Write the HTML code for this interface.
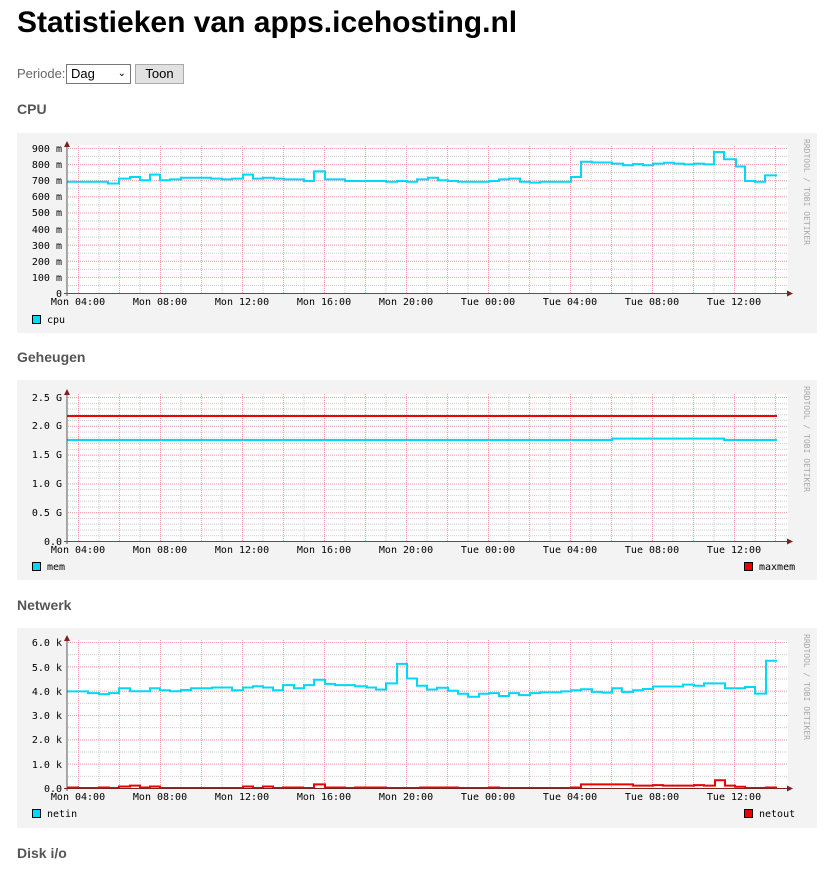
<!DOCTYPE html>
<html><head><meta charset="utf-8">
<style>
body{margin:0;width:825px;height:873px;overflow:hidden;background:#fff;font-family:"Liberation Sans",sans-serif;position:relative}
.a{position:absolute}
h1{position:absolute;left:17px;top:6px;margin:0;font-size:30px;font-weight:bold;color:#000}
.h{position:absolute;left:17px;font-size:14px;font-weight:bold;color:#555}
svg{position:absolute;left:17px}
svg text{font-family:"DejaVu Sans Mono","Liberation Mono",monospace;font-size:10px;fill:#000}
</style></head><body>
<h1>Statistieken van apps.icehosting.nl</h1>
<div class="a" style="left:17px;top:66px;font-size:13px;color:#666">Periode:</div>
<div class="a" style="left:66px;top:64px;width:63px;height:18px;border:1px solid #777;font-size:13px;line-height:18px;box-sizing:content-box"><span style="margin-left:4px">Dag</span><span style="position:absolute;right:4px;top:0;font-size:10px">&#8964;</span></div>
<div class="a" style="left:135px;top:64px;width:47px;height:18px;border:1px solid #aaa;background:#e1e1e1;font-size:13px;line-height:18px;text-align:center">Toon</div>
<div class="h" style="top:101px">CPU</div>
<div class="h" style="top:349px">Geheugen</div>
<div class="h" style="top:597px">Netwerk</div>
<div class="h" style="top:845px">Disk i/o</div>

<svg width="800" height="200" viewBox="17 133 800 200" style="top:133px">
<defs>
<pattern id="gv" x="78" y="0" width="20.5" height="4" patternUnits="userSpaceOnUse"><rect x="0" y="0" width="1" height="1" fill="#ccc"/><rect x="0" y="2" width="1" height="1" fill="#ccc"/></pattern>
<pattern id="rv" x="78" y="0" width="41" height="4" patternUnits="userSpaceOnUse"><rect x="0" y="0" width="1" height="1" fill="#f0a0a0"/><rect x="0" y="2" width="1" height="1" fill="#f0a0a0"/></pattern>
<pattern id="ch" x="0" y="293" width="4" height="8.055" patternUnits="userSpaceOnUse"><rect x="0" y="0" width="1" height="1" fill="#ccc"/><rect x="2" y="0" width="1" height="1" fill="#ccc"/></pattern>
<pattern id="crh" x="0" y="293" width="4" height="16.11" patternUnits="userSpaceOnUse"><rect x="0" y="0" width="1" height="1" fill="#f0a0a0"/><rect x="2" y="0" width="1" height="1" fill="#f0a0a0"/></pattern>
</defs>
<rect x="17" y="133" width="800" height="200" fill="#f3f3f3"/>
<rect x="67" y="145" width="721" height="148" fill="#fff"/>
<rect x="67" y="145" width="721" height="148" fill="url(#gv)"/>
<rect x="67" y="145" width="721" height="148" fill="url(#ch)"/>
<rect x="67" y="145" width="721" height="148" fill="url(#rv)"/>
<rect x="67" y="145" width="721" height="148" fill="url(#crh)"/>
<g text-anchor="end">
<text x="62" y="152">900 m</text><text x="62" y="168">800 m</text><text x="62" y="184">700 m</text><text x="62" y="200">600 m</text><text x="62" y="216">500 m</text><text x="62" y="233">400 m</text><text x="62" y="249">300 m</text><text x="62" y="265">200 m</text><text x="62" y="281">100 m</text><text x="62" y="297">0</text></g>
<polyline fill="none" stroke="#00d8f8" stroke-width="2" points="67,181.8 108,181.8 108,183.5 119,183.5 119,178.6 130,178.6 130,177 140,177 140,180.2 150,180.2 150,174.6 160,174.6 160,180.2 170,180.2 170,179.4 181,179.4 181,177.8 211,177.8 211,178.6 222,178.6 222,179.4 232,179.4 232,178.6 243,178.6 243,174.6 253,174.6 253,178.6 263,178.6 263,177.8 274,177.8 274,178.6 284,178.6 284,179.4 304,179.4 304,181 314,181 314,171.4 325,171.4 325,179.4 345,179.4 345,181 386,181 386,181.8 397,181.8 397,181 407,181 407,181.8 417,181.8 417,179.4 428,179.4 428,177.8 438,177.8 438,180.2 448,180.2 448,181 458,181 458,181.8 489,181.8 489,181 499,181 499,179.4 509,179.4 509,178.6 520,178.6 520,181.8 530,181.8 530,182.6 540,182.6 540,181.8 571,181.8 571,177 581,177 581,161.7 592,161.7 592,162.5 612,162.5 612,163.6 623,163.6 623,165.2 633,165.2 633,164.1 643,164.1 643,165.2 653,165.2 653,163.6 664,163.6 664,162.8 674,162.8 674,163.6 684,163.6 684,164.4 694,164.4 694,163.6 704,163.6 704,164.4 714,164.4 714,152 724,152 724,159.3 736,159.3 736,166.5 745,166.5 745,181 755,181 755,181.8 765,181.8 765,175.4 777,175.4"/>
<line x1="67" y1="143" x2="67" y2="296" stroke="#555"/>
<line x1="64" y1="293.5" x2="790" y2="293.5" stroke="#555"/>
<polygon points="64,147 70,147 67,141" fill="#802020"/>
<polygon points="787,290.5 787,296.5 793,293.5" fill="#802020"/>
<g text-anchor="middle"><text x="78" y="305">Mon 04:00</text><text x="160" y="305">Mon 08:00</text><text x="242" y="305">Mon 12:00</text><text x="324" y="305">Mon 16:00</text><text x="406" y="305">Mon 20:00</text><text x="488" y="305">Tue 00:00</text><text x="570" y="305">Tue 04:00</text><text x="652" y="305">Tue 08:00</text><text x="734" y="305">Tue 12:00</text></g>
<rect x="32.5" y="315.5" width="8" height="8" fill="#00d8f8" stroke="#000"/>
<text x="47" y="323">cpu</text>
<text transform="translate(804,139) rotate(90)" style="font-size:8px;fill:#aaa">RRDTOOL / TOBI OETIKER</text>
</svg>

<svg width="800" height="200" viewBox="17 380 800 200" style="top:380px">
<defs>
<pattern id="mh" x="0" y="541" width="4" height="5.76" patternUnits="userSpaceOnUse"><rect x="0" y="0" width="1" height="1" fill="#ccc"/><rect x="2" y="0" width="1" height="1" fill="#ccc"/></pattern>
<pattern id="mrh" x="0" y="541" width="4" height="28.8" patternUnits="userSpaceOnUse"><rect x="0" y="0" width="1" height="1" fill="#f0a0a0"/><rect x="2" y="0" width="1" height="1" fill="#f0a0a0"/></pattern>
</defs>
<rect x="17" y="380" width="800" height="200" fill="#f3f3f3"/>
<rect x="67" y="394" width="721" height="147" fill="#fff"/>
<rect x="67" y="394" width="721" height="147" fill="url(#gv)"/>
<rect x="67" y="394" width="721" height="147" fill="url(#mh)"/>
<rect x="67" y="394" width="721" height="147" fill="url(#rv)"/>
<rect x="67" y="394" width="721" height="147" fill="url(#mrh)"/>
<g text-anchor="end"><text x="62" y="401">2.5 G</text><text x="62" y="429">2.0 G</text><text x="62" y="458">1.5 G</text><text x="62" y="487">1.0 G</text><text x="62" y="516">0.5 G</text><text x="62" y="545">0.0</text></g>
<line x1="67" y1="416" x2="777" y2="416" stroke="#ee0000" stroke-width="2"/>
<polyline fill="none" stroke="#00d8f8" stroke-width="2" points="67,440 612,440 612,438.6 724,438.6 724,440 777,440"/>
<line x1="67" y1="390" x2="67" y2="544" stroke="#555"/>
<line x1="64" y1="541.5" x2="790" y2="541.5" stroke="#555"/>
<polygon points="64,395 70,395 67,389" fill="#802020"/>
<polygon points="787,538.5 787,544.5 793,541.5" fill="#802020"/>
<g text-anchor="middle"><text x="78" y="553">Mon 04:00</text><text x="160" y="553">Mon 08:00</text><text x="242" y="553">Mon 12:00</text><text x="324" y="553">Mon 16:00</text><text x="406" y="553">Mon 20:00</text><text x="488" y="553">Tue 00:00</text><text x="570" y="553">Tue 04:00</text><text x="652" y="553">Tue 08:00</text><text x="734" y="553">Tue 12:00</text></g>
<rect x="32.5" y="562.5" width="8" height="8" fill="#00d8f8" stroke="#000"/>
<text x="47" y="570">mem</text>
<rect x="744.5" y="562.5" width="8" height="8" fill="#ee0000" stroke="#000"/>
<text x="759" y="570">maxmem</text>
<text transform="translate(804,386) rotate(90)" style="font-size:8px;fill:#aaa">RRDTOOL / TOBI OETIKER</text>
</svg>

<svg width="800" height="200" viewBox="17 628 800 200" style="top:628px">
<defs>
<pattern id="nh" x="0" y="788" width="4" height="12.165" patternUnits="userSpaceOnUse"><rect x="0" y="0" width="1" height="1" fill="#ccc"/><rect x="2" y="0" width="1" height="1" fill="#ccc"/></pattern>
<pattern id="nrh" x="0" y="788" width="4" height="24.33" patternUnits="userSpaceOnUse"><rect x="0" y="0" width="1" height="1" fill="#f0a0a0"/><rect x="2" y="0" width="1" height="1" fill="#f0a0a0"/></pattern>
</defs>
<rect x="17" y="628" width="800" height="200" fill="#f3f3f3"/>
<rect x="67" y="640" width="721" height="148" fill="#fff"/>
<rect x="67" y="640" width="721" height="148" fill="url(#gv)"/>
<rect x="67" y="640" width="721" height="148" fill="url(#nh)"/>
<rect x="67" y="640" width="721" height="148" fill="url(#rv)"/>
<rect x="67" y="640" width="721" height="148" fill="url(#nrh)"/>
<g text-anchor="end"><text x="62" y="646">6.0 k</text><text x="62" y="671">5.0 k</text><text x="62" y="695">4.0 k</text><text x="62" y="719">3.0 k</text><text x="62" y="743">2.0 k</text><text x="62" y="768">1.0 k</text><text x="62" y="792">0.0</text></g>
<polyline fill="none" stroke="#00d8f8" stroke-width="2" points="67,691.4 88,691.4 88,693.1 99,693.1 99,694.1 109,694.1 109,693.1 119,693.1 119,688.2 130,688.2 130,691.2 150,691.2 150,688.2 160,688.2 160,690.2 170,690.2 170,691.2 181,691.2 181,690 191,690 191,688.2 212,688.2 212,687.5 232,687.5 232,690.2 243,690.2 243,687.5 253,687.5 253,686.3 263,686.3 263,687.5 273,687.5 273,690.2 283,690.2 283,685.1 294,685.1 294,688.2 304,688.2 304,685.1 314,685.1 314,679.7 325,679.7 325,683.9 335,683.9 335,685.1 355,685.1 355,686.3 367,686.3 367,687.5 376,687.5 376,689.5 386,689.5 386,683.4 397,683.4 397,663.9 407,663.9 407,678.5 417,678.5 417,685.8 427,685.8 427,689.5 437,689.5 437,687.8 448,687.8 448,690.7 458,690.7 458,693.8 468,693.8 468,696.8 479,696.8 479,693.8 489,693.8 489,693.1 499,693.1 499,696 509,696 509,693.1 519,693.1 519,695.1 530,695.1 530,693.1 540,693.1 540,692.4 561,692.4 561,691.4 571,691.4 571,690.2 581,690.2 581,689.2 592,689.2 592,691.9 602,691.9 602,692.6 612,692.6 612,688.2 622,688.2 622,691.9 633,691.9 633,690.2 643,690.2 643,689 653,689 653,686.5 683,686.5 683,684.6 694,684.6 694,685.8 704,685.8 704,683.4 725,683.4 725,688.2 745,688.2 745,687 755,687 755,693.6 766,693.6 766,660.8 777,660.8"/>
<polyline fill="none" stroke="#ee0000" stroke-width="2" points="67,787.5 78,787.5 78,788 99,788 99,787.5 109,787.5 109,788 119,788 119,786.5 130,786.5 130,785.6 140,785.6 140,787.5 150,787.5 150,786.5 160,786.5 160,788 243,788 243,786.5 253,786.5 253,788 263,788 263,786.5 273,786.5 273,788 283,788 283,787.5 303,787.5 303,788 314,788 314,784.4 325,784.4 325,787.5 345,787.5 345,788 355,788 355,787.5 386,787.5 386,788 420,788 420,787.5 458,787.5 458,788 489,788 489,787.5 499,787.5 499,788 571,788 571,787.5 581,787.5 581,784.4 633,784.4 633,785.6 653,785.6 653,785.1 663,785.1 663,785.6 694,785.6 694,785.1 704,785.1 704,785.6 715,785.6 715,780.2 725,780.2 725,785.6 735,785.6 735,786.8 745,786.8 745,788 766,788 766,787.5 777,787.5"/>
<line x1="67" y1="637" x2="67" y2="791" stroke="#555"/>
<line x1="64" y1="788.5" x2="790" y2="788.5" stroke="#802020"/>
<polygon points="64,641 70,641 67,635" fill="#802020"/>
<polygon points="787,785.5 787,791.5 793,788.5" fill="#802020"/>
<g text-anchor="middle"><text x="78" y="800">Mon 04:00</text><text x="160" y="800">Mon 08:00</text><text x="242" y="800">Mon 12:00</text><text x="324" y="800">Mon 16:00</text><text x="406" y="800">Mon 20:00</text><text x="488" y="800">Tue 00:00</text><text x="570" y="800">Tue 04:00</text><text x="652" y="800">Tue 08:00</text><text x="734" y="800">Tue 12:00</text></g>
<rect x="32.5" y="809.5" width="8" height="8" fill="#00d8f8" stroke="#000"/>
<text x="47" y="817">netin</text>
<rect x="744.5" y="809.5" width="8" height="8" fill="#ee0000" stroke="#000"/>
<text x="759" y="817">netout</text>
<text transform="translate(804,634) rotate(90)" style="font-size:8px;fill:#aaa">RRDTOOL / TOBI OETIKER</text>
</svg>
</body></html>
